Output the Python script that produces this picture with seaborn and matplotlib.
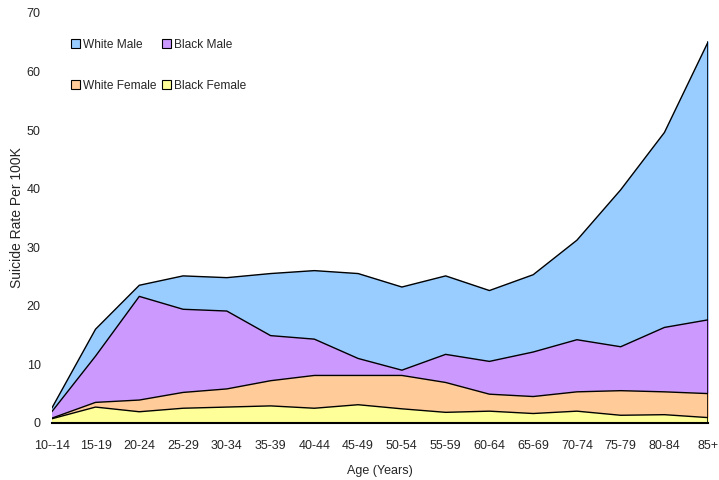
import numpy as np
import pandas as pd
import seaborn as sns
import matplotlib.pyplot as plt
from matplotlib.patches import Patch

# age groups on the x axis
ages = ['10--14', '15-19', '20-24', '25-29', '30-34', '35-39', '40-44', '45-49',
        '50-54', '55-59', '60-64', '65-69', '70-74', '75-79', '80-84', '85+']

# suicide rate per 100K
white_male = [2.5, 16.0, 23.5, 25.1, 24.8, 25.5, 26.0, 25.5, 23.2, 25.1, 22.6, 25.3, 31.2, 39.8, 49.6, 65.1]
black_male = [1.9, 11.4, 21.6, 19.4, 19.1, 14.9, 14.3, 11.0, 9.0, 11.7, 10.5, 12.1, 14.2, 13.0, 16.3, 17.6]
white_female = [0.8, 3.5, 3.9, 5.2, 5.8, 7.2, 8.1, 8.1, 8.1, 6.9, 4.9, 4.5, 5.3, 5.5, 5.3, 5.0]
black_female = [0.7, 2.7, 1.9, 2.5, 2.7, 2.9, 2.5, 3.1, 2.4, 1.8, 2.0, 1.6, 2.0, 1.3, 1.4, 0.9]

series = ['White Male', 'Black Male', 'White Female', 'Black Female']
colors = ['#99CCFF', '#CC99FF', '#FFCC99', '#FFFF99']

df = pd.DataFrame({'age': ages, 'White Male': white_male, 'Black Male': black_male,
                   'White Female': white_female, 'Black Female': black_female})
df['pos'] = np.arange(len(ages))
long = df.melt(id_vars=['age', 'pos'], value_vars=series, var_name='group', value_name='rate')

sns.set_style('white')
plt.rcParams['font.family'] = ['Liberation Sans', 'DejaVu Sans']

fig = plt.figure(figsize=(7.19, 4.80), dpi=100)
ax = fig.add_axes([0.072, 0.119, 0.913, 0.854])

# overlapping areas, drawn back to front
for name, c in zip(series, colors):
    ax.fill_between(df['pos'], 0, df[name], color=c, zorder=1)
sns.lineplot(data=long, x='pos', y='rate', hue='group', hue_order=series,
             palette=['black'] * 4, linewidth=1, legend=False, ax=ax, zorder=2)
ax.plot([df['pos'].iloc[-1]] * 2, [0, white_male[-1]], color='black', lw=1.2, zorder=2)

ax.set_xlim(0, len(ages) - 1)
ax.set_ylim(0, 70)
ax.set_xticks(df['pos'])
ax.set_xticklabels(ages)
ax.set_yticks(range(0, 71, 10))
ax.tick_params(axis='x', length=5, width=1, color='black', direction='out', labelsize=9, pad=7)
ax.tick_params(axis='y', length=0, labelsize=9, pad=8)
for s in ['top', 'right', 'left']:
    ax.spines[s].set_visible(False)
ax.spines['bottom'].set_color('black')
ax.spines['bottom'].set_linewidth(1.5)
ax.spines['bottom'].set_zorder(3)

ax.set_xlabel('Age (Years)', fontsize=9, labelpad=10)
ax.set_ylabel('Suicide Rate Per 100K', fontsize=10, labelpad=2)

# column-first order so the rows read White Male / Black Male, White Female / Black Female
order = [0, 2, 1, 3]
handles = [Patch(facecolor=colors[i], edgecolor='black', linewidth=0.8) for i in order]
ax.legend(handles, [series[i] for i in order], ncol=2, loc='upper left',
          bbox_to_anchor=(0.013, 0.963), frameon=False, fontsize=8.6,
          handlelength=0.75, handleheight=0.75, handletextpad=0.25,
          columnspacing=0.5, labelspacing=2.4)

fig.savefig('out.png', dpi=100)
